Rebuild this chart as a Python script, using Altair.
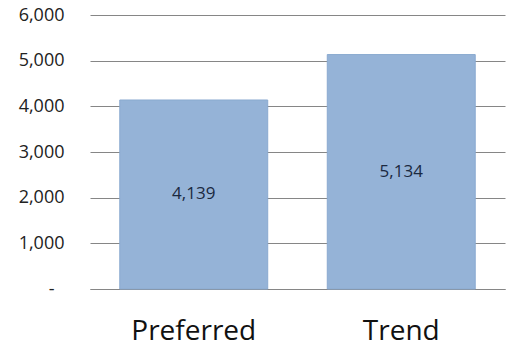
import altair as alt
import pandas as pd

categories = ["Preferred", "Trend"]
values = [4139, 5134]

df = pd.DataFrame({"category": categories, "value": values})

base = alt.Chart(df).encode(
    x=alt.X("category:N", sort=categories,
            scale=alt.Scale(paddingInner=0.287, paddingOuter=0.1435),
            axis=alt.Axis(title=None, labelAngle=0, labelFontSize=28, labelFont="Open Sans",
                          labelColor="#111111", ticks=False, domain=True, grid=False,
                          domainColor="#868686", labelPadding=28)),
)

bars = base.mark_bar(color="#95B3D7", stroke="#8AAAD0", strokeWidth=1).encode(
    y=alt.Y("value:Q", scale=alt.Scale(domain=[0, 6000], nice=False),
            axis=alt.Axis(title=None, values=[0, 1000, 2000, 3000, 4000, 5000, 6000],
                          labelExpr="datum.value == 0 ? '-' : format(datum.value, ',')",
                          labelFontSize=18, labelFont="Open Sans", labelColor="#222222",
                          labelPadding={"condition": {"test": "datum.value == 0", "value": 36}, "value": 26},
                          ticks=False, domain=False,
                          grid=True, gridColor="#868686", gridWidth=1)),
)

text = base.mark_text(fontSize=17, font="Open Sans", color="#1B2940").encode(
    y=alt.Y("mid:Q"),
    text=alt.Text("value:Q", format=","),
).transform_calculate(mid="datum.value / 2")

chart = alt.layer(bars, text).properties(
    width=415, height=274,
    background="white",
    autosize=alt.AutoSizeParams(type="none"),
    padding={"left": 90, "top": 15, "right": 1, "bottom": 57},
).configure_view(stroke=None)

chart.save("out.html", embed_options={"renderer": "svg", "actions": False})
